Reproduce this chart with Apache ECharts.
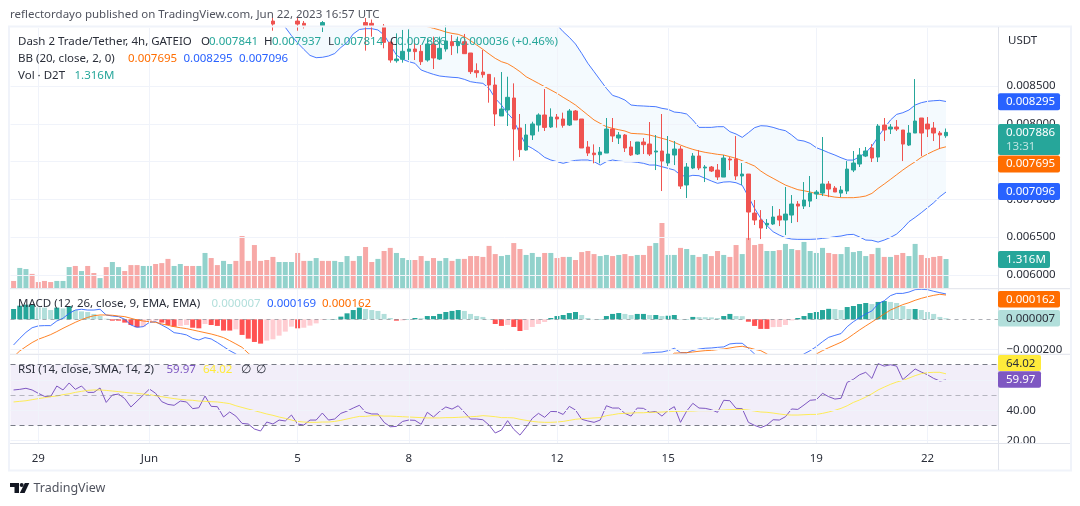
<!DOCTYPE html>
<html>
<head>
<meta charset="utf-8">
<title>Dash 2 Trade/Tether, 4h</title>
<script src="https://cdn.jsdelivr.net/npm/echarts@6/dist/echarts.min.js"></script>
<style>
  html, body { margin: 0; padding: 0; background: #fff; }
  #chart { width: 1080px; height: 506px; }
</style>
</head>
<body>
<div id="chart"></div>
<script>
const N = null;

// 4h bars, index 0 is two thirds of a day before May 29.
// prices are in millionths of USDT, bars above the visible range stay null
const tickIndex = [4, 22, 46, 64, 88, 106, 130, 148];
const tickLabels = ['29', 'Jun', '5', '8', '12', '15', '19', '22'];

const opens = [
  N,N,N,N,N,N,N,N,N,N, N,N,N,N,N,N,N,N,N,N, N,N,N,N,N,N,N,N,N,N, N,N,N,N,N,N,N,N,N,N,
  N,N,9360,N,N,N,9360,9330,N,N,
  9300,N,N,N,N,N,N,9340,9330,N,
  9290,9078,8835,8853,8959,8990,8959,8844,9056,8857,
  8990,9087,9034,9087,8937,8703,8685,8654,8513,8103,
  8182,8341,7944,7652,7851,7983,8116,7957,8089,8063,
  7983,8169,8063,7692,7612,7590,7612,7930,7811,7851,
  7692,7599,7758,7732,7626,7639,7480,7586,7665,7189,
  7414,7573,7414,7427,7387,7294,7533,7533,7308,7334,
  6817,6725,6659,6672,6778,6725,6791,6937,6910,6976,
  7069,7082,7202,7148,7082,7109,7387,7467,7572,7678,
  7559,7983,7930,7957,7917,7718,7877,8076,7996,7943,7877,7841
];
const closes = [
  N,N,N,N,N,N,N,N,N,N, N,N,N,N,N,N,N,N,N,N, N,N,N,N,N,N,N,N,N,N, N,N,N,N,N,N,N,N,N,N,
  N,N,9320,N,N,N,9320,9300,N,N,
  9340,N,N,N,N,N,N,9300,9300,N,
  9078,8844,8857,8959,8990,8955,8822,9056,8871,8999,
  9096,9034,9087,8928,8690,8676,8650,8513,8129,8195,
  8350,7930,7657,7851,7997,8116,7952,8089,8063,7979,
  8169,8050,7679,7612,7590,7626,7930,7838,7851,7679,
  7586,7758,7723,7599,7639,7506,7599,7665,7175,7427,
  7573,7414,7427,7374,7295,7546,7520,7308,7334,6831,
  6725,6619,6681,6765,6725,6804,6937,6910,6990,7082,
  7096,7202,7135,7096,7122,7400,7480,7586,7639,7546,
  7970,7917,7957,7930,7731,7877,8036,7877,7930,7877,7851,7886
];
const lows = [
  N,N,N,N,N,N,N,N,N,N, N,N,N,N,N,N,N,N,N,N, N,N,N,N,N,N,N,N,N,N, N,N,N,N,N,N,N,N,N,N,
  N,N,9232,N,N,N,9232,9262,N,N,
  9215,N,N,N,N,N,N,8968,9153,N,
  8999,8809,8809,8809,8844,8844,8778,8822,8725,8844,
  8955,8910,8932,8925,8659,8610,8610,8279,7970,8103,
  7970,7511,7559,7643,7785,7895,7904,7944,7948,7948,
  7970,8050,7679,7573,7476,7476,7612,7758,7732,7626,
  7573,7586,7599,7573,7387,7109,7440,7453,7136,7017,
  7400,7387,7228,7361,7255,7294,7387,7255,7188,6460,
  6659,6473,6606,6659,6645,6526,6685,6698,6871,6897,
  7003,7043,7029,7096,7029,7069,7360,7427,7559,7493,
  7493,7771,7864,7904,7506,7705,7877,7572,7824,7771,7665,7814
];
const highs = [
  N,N,N,N,N,N,N,N,N,N, N,N,N,N,N,N,N,N,N,N, N,N,N,N,N,N,N,N,N,N, N,N,N,N,N,N,N,N,N,N,
  N,N,9400,N,N,N,9400,9360,N,N,
  9360,N,N,N,N,N,N,9400,9380,N,
  9320,9090,9197,9242,9250,9109,9043,9131,9153,9153,
  9300,9175,9153,9189,8937,8800,8977,8654,8615,8685,
  8623,8535,8129,7997,8027,8138,8460,8204,8129,8147,
  8195,8182,8063,7771,7727,7692,8076,8076,7891,7864,
  7771,7758,7811,8023,7851,8129,7838,7771,7705,7480,
  7612,7652,7453,7440,7467,7586,7559,7837,7480,7334,
  6990,6857,6738,6910,6871,7162,7056,6976,7228,7308,
  7122,7824,7241,7175,7175,7506,7639,7678,7692,7731,
  7996,8076,7996,8049,7917,7983,8592,8076,8089,8023,7904,7937
];

const bbLower = [
  N,N,N,N,N,N,N,N,N,N, N,N,N,N,N,N,N,N,N,N, N,N,N,N,N,N,N,N,N,N, N,N,N,N,N,N,N,N,N,N,
  N,N,N,9400,9277,9167,9070,8985,8905,8875,
  8880,8897,8930,9010,9075,9189,9248,9259,9259,9242,
  9175,9043,8910,8853,8822,8800,8712,8681,8654,8632,
  8623,8615,8610,8588,8557,8544,8535,8469,8336,8248,
  8138,8050,7864,7718,7674,7621,7555,7520,7498,7476,
  7498,7515,7520,7520,7498,7453,7498,7520,7506,7498,
  7498,7489,7476,7453,7453,7431,7409,7387,7321,7299,
  7317,7312,7277,7242,7211,7228,7232,7219,7184,7034,
  6879,6747,6650,6570,6526,6491,6473,6469,6469,6469,
  6473,6482,6491,6504,6513,6531,6535,6500,6460,6456,
  6433,6460,6495,6539,6614,6703,6760,6822,6888,6954,7034,7096
];
const bbMid = [
  N,N,N,N,N,N,N,N,N,N, N,N,N,N,N,N,N,N,N,N, N,N,N,N,N,N,N,N,N,N, N,N,N,N,N,N,N,N,N,N,
  N,N,N,N,N,N,N,N,N,N, N,N,N,N,N,N,N,N,N,N,
  N,N,N,N,N,N,9330,9286,9264,9242,
  9215,9197,9184,9153,9100,9043,8985,8924,8866,8822,
  8796,8747,8690,8623,8579,8535,8491,8447,8403,8350,
  8301,8248,8182,8116,8050,8005,7961,7939,7921,7904,
  7873,7868,7864,7851,7829,7807,7785,7754,7718,7687,
  7661,7639,7621,7608,7595,7586,7564,7542,7511,7475,
  7440,7374,7321,7277,7232,7188,7157,7127,7113,7096,
  7074,7060,7043,7029,7021,7021,7021,7029,7043,7078,
  7144,7202,7263,7325,7387,7444,7497,7555,7599,7639,7674,7695
];
// upper band runs above the pane until bar 88, 9700 is only a guess up there
const bbUpper = [
  N,N,N,N,N,N,N,N,N,N, N,N,N,N,N,N,N,N,N,N, N,N,N,N,N,N,N,N,N,N, N,N,N,N,N,N,N,N,N,N,
  N,N,N,9700,9700,9700,9700,9700,9700,9700,
  9700,9700,9700,9700,9700,9700,9700,9700,9700,9700,
  9700,9700,9700,9700,9700,9700,9700,9700,9700,9700,
  9700,9700,9700,9700,9700,9700,9700,9700,9700,9700,
  9700,9700,9700,9700,9700,9700,9700,9500,9308,9219,
  9144,9056,8932,8800,8690,8579,8469,8376,8350,8314,
  8248,8239,8235,8230,8226,8204,8191,8155,8147,8129,
  8050,7952,7952,7952,7961,7961,7895,7864,7820,7882,
  7948,7974,7970,7952,7926,7908,7851,7784,7771,7740,
  7683,7652,7617,7586,7550,7519,7519,7564,7617,7705,
  7828,7939,8049,8124,8146,8182,8248,8279,8297,8305,8310,8295
];

// volume, millions of D2T
const volumes = [
  0.32,0.91,0.86,0.64,0.27,0.32,0.27,0.32,0.32,0.95,
  1.00,0.77,1.00,0.68,0.45,0.95,1.18,0.95,0.77,1.04,
  1.04,1.00,1.00,1.09,1.13,1.32,1.00,1.09,1.00,1.00,
  1.00,1.59,1.36,1.04,1.23,1.09,1.23,2.36,1.23,1.95,
  1.23,1.27,1.41,1.18,1.18,1.18,1.59,1.23,1.23,1.36,
  1.23,1.23,1.23,1.18,1.45,1.23,1.45,1.86,1.18,1.32,
  1.68,1.82,1.59,1.36,1.27,1.27,1.45,1.23,1.36,1.23,
  1.36,1.23,1.32,1.32,1.45,1.45,1.41,1.91,1.54,1.45,
  1.50,2.04,1.77,1.50,1.59,1.41,1.59,1.59,1.36,1.41,
  1.41,1.27,1.63,1.68,1.54,1.45,1.50,1.45,1.50,1.54,
  1.45,1.50,1.50,1.91,2.04,2.95,1.50,1.50,1.82,1.77,
  1.50,1.41,1.54,1.45,1.68,1.50,1.41,1.95,1.54,2.27,
  1.95,2.00,1.68,1.68,1.72,2.00,1.77,1.72,2.09,1.68,
  1.59,1.82,1.59,1.54,1.54,1.86,1.63,1.68,1.45,1.54,
  1.82,1.41,1.41,1.50,1.59,1.45,2.00,1.50,1.36,1.41,1.45,1.316
];

// MACD parts, millionths
const macdHist = [
  69,91,98,102,80,78,62,78,73,89,
  62,53,49,36,22,4,-9,-9,-22,-38,
  -53,-49,-16,-9,-22,-38,-49,-44,-38,-56,
  -60,-31,-38,-44,-75,-75,-67,-104,-129,-151,
  -162,-142,-133,-109,-82,-49,-60,-56,-42,-27,
  -4,1,2,18,40,62,78,69,62,56,
  36,9,-9,-7,2,9,7,22,22,36,
  49,56,62,56,36,22,16,2,-31,-44,
  -38,-51,-78,-71,-51,-31,-18,9,22,29,
  42,49,29,9,2,2,22,36,42,36,
  29,36,36,29,29,22,24,29,2,2,
  16,15,14,13,9,22,36,22,21,-16,
  -44,-64,-64,-52,-51,-38,-7,9,22,42,
  49,62,70,69,62,82,89,102,109,102,
  116,122,116,109,89,69,69,62,49,36,16,7
];
const macdLine = [
  -171,-127,-87,-56,-44,-42,-42,-11,7,40,
  62,67,62,62,67,29,22,18,0,-38,
  -53,-49,-20,-16,-38,-60,-89,-95,-104,-127,
  -138,-122,-131,-155,-182,-209,-231,-260,N,N,
  N,N,N,N,N,N,N,N,N,N, N,N,N,N,N,N,N,N,N,N,
  N,N,N,N,N,N,N,N,N,N, N,N,N,N,N,N,N,N,N,N,
  N,N,N,N,N,N,N,N,N,N, N,N,N,N,N,N,N,N,N,N,
  N,-260,-226,-224,-220,-218,-209,-193,-222,-224,
  -207,-198,-193,-191,-187,-184,-164,-160,-160,-193,
  -231,-260,N,N,N,N,N,-260,-231,-209,
  -182,-149,-120,-107,-95,-49,-16,11,36,56,
  104,124,158,173,173,182,198,200,198,187,178,169
];
const macdSignal = [
  -250,-211,-182,-155,-133,-118,-102,-82,-60,-40,
  -20,-2,13,24,29,29,27,22,18,7,
  -4,-11,-16,-20,-31,-40,-49,-56,-62,-71,
  -80,-89,-98,-109,-122,-142,-164,-187,-226,-260,
  N,N,N,N,N,N,N,N,N,N, N,N,N,N,N,N,N,N,N,N,
  N,N,N,N,N,N,N,N,N,N, N,N,N,N,N,N,N,N,N,N,
  N,N,N,N,N,N,N,N,N,N, N,N,N,N,N,N,N,N,N,N,
  N,N,N,N,N,N,-260,-226,-224,-222,
  -218,-213,-209,-207,-202,-198,-191,-184,-180,-189,
  -200,-209,-231,-260,N,N,N,N,N,-260,
  -231,-209,-189,-171,-153,-129,-100,-71,-44,-18,
  9,36,62,80,98,111,127,140,151,160,167,162
];

const rsiLine = [
  53.4,53.8,54.5,53.4,51.2,49.2,49.0,56.0,53.4,58.0,
  53.8,56.0,51.8,51.8,54.7,45.2,50.1,50.7,47.7,42.2,
  46.1,50.1,54.0,51.2,45.7,43.9,43.3,46.1,45.5,41.1,
  41.7,49.4,42.6,42.4,35.6,38.9,36.2,31.4,31.0,27.7,
  26.4,32.3,31.0,33.6,33.0,36.9,31.0,30.3,33.6,33.6,
  38.2,33.6,34.3,38.0,39.5,41.5,43.3,38.7,37.6,37.6,
  32.1,29.2,29.4,32.7,33.6,33.4,30.8,38.7,35.6,39.3,
  42.2,40.8,43.0,38.7,34.3,34.3,33.8,30.3,25.1,27.0,
  33.2,27.5,23.7,28.8,34.7,38.0,35.4,39.3,39.1,37.3,
  42.6,40.2,34.1,33.0,32.1,33.6,43.0,41.5,41.5,38.0,
  36.2,41.5,41.3,38.7,39.3,36.2,40.0,42.4,32.1,39.5,
  44.6,41.5,41.3,40.4,38.7,46.6,46.3,41.3,41.1,32.1,
  30.1,28.6,30.3,33.8,33.6,35.8,40.9,40.6,43.5,46.6,
  47.0,51.2,49.0,47.4,47.9,58.4,60.4,63.4,65.0,61.0,
  70.7,69.1,70.0,69.1,60.2,63.7,67.2,65.2,63.4,61.0,59.3,59.97
];
const rsiMa = [
  45.5,45.9,46.3,47.0,47.7,48.3,49.0,49.4,50.3,50.9,
  51.8,52.5,53.1,53.4,53.4,53.1,52.7,52.3,51.8,51.4,
  51.2,50.7,50.3,49.6,49.0,48.3,47.7,47.2,46.8,46.6,
  46.1,45.9,45.7,45.5,45.0,44.4,43.0,41.9,40.8,39.8,
  38.7,37.6,36.7,35.6,34.7,33.6,32.7,32.3,32.1,32.1,
  32.3,32.3,32.7,33.4,34.3,35.2,36.0,36.0,36.5,36.5,
  36.2,36.2,36.0,35.8,35.6,35.4,35.2,35.0,35.0,35.0,
  35.2,35.2,35.4,35.6,35.8,36.0,36.5,36.2,35.8,35.2,
  35.2,35.0,34.1,33.4,32.7,32.3,32.1,32.1,32.3,32.7,
  33.4,34.1,34.5,34.7,35.0,35.2,36.5,37.1,37.8,38.0,
  38.2,38.4,38.4,38.7,38.7,38.9,39.1,39.3,39.3,39.5,
  39.5,39.8,39.8,39.8,40.0,40.2,40.4,40.6,40.6,40.2,
  39.5,38.9,38.7,38.2,37.6,37.1,36.9,36.9,37.1,37.3,
  37.3,38.0,38.9,40.0,41.3,43.0,45.2,46.8,48.7,50.9,
  53.4,55.3,57.1,58.6,59.7,61.2,62.8,64.1,64.8,65.0,65.0,64.02
];

const priceTicks = [8500, 8000, 7500, 7000, 6500, 6000];
const macdTicks = [-200];
const rsiTicks = [60, 40, 20];

const FONT = '"Noto Sans", sans-serif';
const FS = 11.5;
const UP = '#26a69a', DOWN = '#ef5350', BLUE = '#2962ff', ORANGE = '#ff6d00';
const PURPLE = '#7e57c2', YELLOW = '#ffeb3b', TEXT = '#2a2e39', GRID = '#f0f3fa';

const SLOTS = 160;   // room for the empty bars right of the last candle
const categories = [];
for (let i = 0; i < SLOTS; i++) {
  const t = tickIndex.indexOf(i);
  categories.push(t >= 0 ? tickLabels[t] : '');
}

const grids = [
  { left: 10.5, width: 988, top: 28, height: 260 },
  { left: 10.5, width: 988, top: 289.5, height: 64 },
  { left: 10.5, width: 988, top: 355, height: 88 }
];

function xAxis(gridIndex, showLabels) {
  return {
    type: 'category', gridIndex, data: categories,
    axisLine: { show: false }, axisTick: { show: false }, splitLine: { show: false },
    axisLabel: {
      show: showLabels, interval: 0, margin: 10, fontFamily: FONT, fontSize: FS, color: TEXT
    }
  };
}

function priceAxis(gridIndex, min, max, ticks, fmt) {
  return {
    type: 'value', gridIndex, position: 'right', min, max, scale: true,
    axisLine: { show: false }, axisTick: { show: false }, splitLine: { show: false },
    axisLabel: {
      customValues: ticks, formatter: fmt, margin: 8,
      fontFamily: FONT, fontSize: FS, color: TEXT
    }
  };
}

// vertical day lines and horizontal price lines sit on an empty series behind the marks
function gridLines(axisIndex, yAxisIndex, yValues) {
  const data = tickIndex.map(i => ({ xAxis: i })).concat(yValues.map(v => ({ yAxis: v })));
  return {
    type: 'line', xAxisIndex: axisIndex, yAxisIndex, data: [], z: 0, silent: true,
    markLine: {
      silent: true, symbol: 'none', animation: false, label: { show: false },
      lineStyle: { color: GRID, width: 1, type: 'solid' }, data
    }
  };
}

function line(name, data, color, xIdx, yIdx, z) {
  return {
    name, type: 'line', data, xAxisIndex: xIdx, yAxisIndex: yIdx, z: z || 4,
    showSymbol: false, symbol: 'none', smooth: false, connectNulls: false, silent: true,
    lineStyle: { color, width: 1, opacity: 0.85 }, animation: false
  };
}

function histColor(p) {
  const h = macdHist[p.dataIndex];
  const prev = p.dataIndex > 0 ? macdHist[p.dataIndex - 1] : -Infinity;
  if (h >= 0) return h >= prev ? UP : '#b2dfdb';
  return h <= prev ? '#ff5252' : '#ffcdd2';
}

// green volume bars among the candles that are off the top of the pane
const volumeUpHidden = [1, 2, 7, 8, 9, 11, 14, 16, 17, 21, 22, 26, 27, 30, 31, 34, 35, 43, 44, 45, 48, 49, 52, 53, 54, 56, 59];

function volumeColor(p) {
  const i = p.dataIndex;
  let up;
  if (closes[i] != null && i > 59) up = closes[i] >= opens[i];
  else up = volumeUpHidden.indexOf(i) >= 0;
  return up ? 'rgba(38,166,154,0.5)' : 'rgba(239,83,80,0.5)';
}

const option = {
  backgroundColor: '#fff',
  animation: false,
  grid: grids,
  xAxis: [xAxis(0, false), xAxis(0, false), xAxis(1, false), xAxis(2, true)],
  yAxis: [
    priceAxis(0, 5825, 9268, priceTicks, v => (v / 1e6).toFixed(6)),
    { type: 'value', gridIndex: 0, min: 0, max: 11.8, show: false },
    priceAxis(1, -228, 199, macdTicks, v => '\u2212' + (Math.abs(v) / 1e6).toFixed(6)),
    priceAxis(2, 18.5, 76.4, rsiTicks, v => v.toFixed(2))
  ],
  series: [
    gridLines(0, 0, priceTicks),
    gridLines(2, 2, macdTicks),
    gridLines(3, 3, rsiTicks),
    {
      // band fill between upper and lower Bollinger lines
      type: 'custom', xAxisIndex: 0, yAxisIndex: 0, data: [0], z: 1, silent: true, clip: true,
      renderItem(params, api) {
        const top = [], bottom = [];
        bbUpper.forEach((u, i) => {
          if (u == null || bbLower[i] == null) return;
          top.push(api.coord([i, u]));
          bottom.unshift(api.coord([i, bbLower[i]]));
        });
        return {
          type: 'polygon', shape: { points: top.concat(bottom) },
          style: { fill: 'rgba(33,150,243,0.05)' }
        };
      }
    },
    {
      name: 'Vol', type: 'bar', data: volumes, xAxisIndex: 0, yAxisIndex: 1, barWidth: 5, z: 2, silent: true,
      itemStyle: { color: volumeColor }
    },
    line('BB upper', bbUpper, BLUE, 0, 0),
    line('BB lower', bbLower, BLUE, 0, 0),
    line('BB basis', bbMid, ORANGE, 0, 0),
    {
      name: 'D2T/USDT', type: 'candlestick', xAxisIndex: 0, yAxisIndex: 0, barWidth: 4, z: 5, silent: true,
      data: opens.map((o, i) => o == null ? ['-', '-', '-', '-'] : [o, closes[i], lows[i], highs[i]]),
      itemStyle: { color: UP, color0: DOWN, borderColor: UP, borderColor0: DOWN, borderWidth: 1 }
    },
    {
      name: 'Histogram', type: 'bar', data: macdHist, xAxisIndex: 2, yAxisIndex: 2, barWidth: 5, z: 2, silent: true,
      itemStyle: { color: histColor },
      markLine: {
        silent: true, symbol: 'none', animation: false, label: { show: false },
        lineStyle: { color: 'rgba(120,123,134,0.6)', width: 1, type: [4, 4] },
        data: [{ yAxis: 0 }]
      }
    },
    line('MACD', macdLine, BLUE, 2, 2),
    line('Signal', macdSignal, ORANGE, 2, 2),
    {
      name: 'RSI', type: 'line', data: rsiLine, xAxisIndex: 3, yAxisIndex: 3, z: 4,
      showSymbol: false, symbol: 'none', silent: true, animation: false,
      lineStyle: { color: PURPLE, width: 1 },
      markArea: {
        silent: true, animation: false, itemStyle: { color: 'rgba(126,87,194,0.1)' },
        data: [[{ yAxis: 70 }, { yAxis: 30 }]]
      },
      markLine: {
        silent: true, symbol: 'none', animation: false, label: { show: false },
        lineStyle: { color: '#787b86', width: 1, type: [5, 4] },
        data: [
          { yAxis: 70 },
          { yAxis: 50, lineStyle: { color: 'rgba(120,123,134,0.5)' } },
          { yAxis: 30 }
        ]
      }
    },
    line('RSI MA', rsiMa, YELLOW, 3, 3)
  ],
  graphic: buildGraphic()
};

function txt(x, y, text, fill, size) {
  return {
    type: 'text', x, y, z: 50, silent: true,
    style: { text, fill, font: (size || FS) + 'px ' + FONT, textVerticalAlign: 'middle' }
  };
}

function tag(x, y, w, h, fill, lines, color) {
  const els = [{
    type: 'rect', z: 60, silent: true,
    shape: { x, y, width: w, height: h, r: 2 }, style: { fill }
  }];
  lines.forEach((l, k) => {
    const el = txt(x + 8, y + 8.5 + k * 14, l, k ? 'rgba(255,255,255,0.7)' : color);
    el.z = 61;
    els.push(el);
  });
  return els;
}

function buildGraphic() {
  const frame = [
    { type: 'rect', z: 40, silent: true, shape: { x: 9, y: 26.5, width: 1062, height: 444 },
      style: { fill: 'none', stroke: GRID, lineWidth: 2 } },
    { type: 'line', z: 40, silent: true, shape: { x1: 998.5, y1: 27, x2: 998.5, y2: 470 },
      style: { stroke: '#e0e3eb', lineWidth: 1 } },
    { type: 'line', z: 40, silent: true, shape: { x1: 10, y1: 288.7, x2: 1070, y2: 288.7 },
      style: { stroke: '#e0e3eb', lineWidth: 1 } },
    { type: 'line', z: 40, silent: true, shape: { x1: 10, y1: 354.3, x2: 1070, y2: 354.3 },
      style: { stroke: '#e0e3eb', lineWidth: 1 } },
    { type: 'line', z: 40, silent: true, shape: { x1: 10, y1: 443.5, x2: 1070, y2: 443.5 },
      style: { stroke: '#e0e3eb', lineWidth: 1 } }
  ];
  const legend = [
    txt(10, 15, 'reflectordayo published on TradingView.com, Jun 22, 2023 16:57 UTC', '#50535e'),
    txt(18, 42, 'Dash 2 Trade/Tether, 4h, GATEIO', TEXT),
    txt(201, 42, 'O', TEXT), txt(209, 42, '0.007841', UP),
    txt(264, 42, 'H', TEXT), txt(272, 42, '0.007937', UP),
    txt(328, 42, 'L', TEXT), txt(334, 42, '0.007814', UP),
    txt(390, 42, 'C', TEXT), txt(397, 42, '0.007886', UP),
    txt(453, 42, '+0.000036', UP), txt(512, 42, '(+0.46%)', UP),
    txt(18, 59, 'BB (20, close, 2, 0)', TEXT),
    txt(128, 59, '0.007695', ORANGE), txt(183.5, 59, '0.008295', BLUE), txt(239, 59, '0.007096', BLUE),
    txt(18, 76, 'Vol \u00b7 D2T', TEXT), txt(74.5, 76, '1.316M', UP),
    txt(18, 304, 'MACD (12, 26, close, 9, EMA, EMA)', TEXT),
    txt(211.5, 304, '0.000007', '#b2dfdb'), txt(267, 304, '0.000169', BLUE), txt(322, 304, '0.000162', ORANGE),
    txt(18, 370, 'RSI (14, close, SMA, 14, 2)', TEXT),
    txt(166.5, 370, '59.97', PURPLE), txt(203, 370, '64.02', YELLOW),
    txt(240.5, 370, '\u2205', TEXT), txt(256, 370, '\u2205', TEXT),
    txt(1008, 41, 'USDT', TEXT),
    txt(33.5, 488.5, 'TradingView', '#50535e', 12.5)
  ];
  const tags = [].concat(
    tag(998, 93.3, 62, 17, BLUE, ['0.008295'], '#fff'),
    tag(998, 124, 62, 31, UP, ['0.007886', '13:31'], '#fff'),
    tag(998, 155.5, 62, 17, ORANGE, ['0.007695'], '#fff'),
    tag(998, 183, 62, 17, BLUE, ['0.007096'], '#fff'),
    tag(998, 251, 52, 17, UP, ['1.316M'], '#fff'),
    tag(998, 291, 62, 16.5, ORANGE, ['0.000162'], '#fff'),
    tag(998, 310, 62, 16.5, '#b2dfdb', ['0.000007'], TEXT),
    tag(998, 355, 43, 16, YELLOW, ['64.02'], TEXT),
    tag(998, 371.3, 43, 16.5, PURPLE, ['59.97'], '#fff')
  );
  const logo = [
    { type: 'polygon', z: 50, silent: true, style: { fill: '#131722' },
      shape: { points: [[10, 483], [19, 483], [19, 493], [14.5, 493], [14.5, 487], [10, 487]] } },
    { type: 'circle', z: 50, silent: true, style: { fill: '#131722' }, shape: { cx: 21.7, cy: 485, r: 2 } },
    { type: 'polygon', z: 50, silent: true, style: { fill: '#131722' },
      shape: { points: [[24.8, 483], [29.3, 483], [24.6, 493], [19.8, 493]] } }
  ];
  return { elements: frame.concat(legend, tags, logo) };
}

const chart = echarts.init(document.getElementById('chart'), null, { renderer: 'canvas' });
chart.setOption(option);
</script>
</body>
</html>
